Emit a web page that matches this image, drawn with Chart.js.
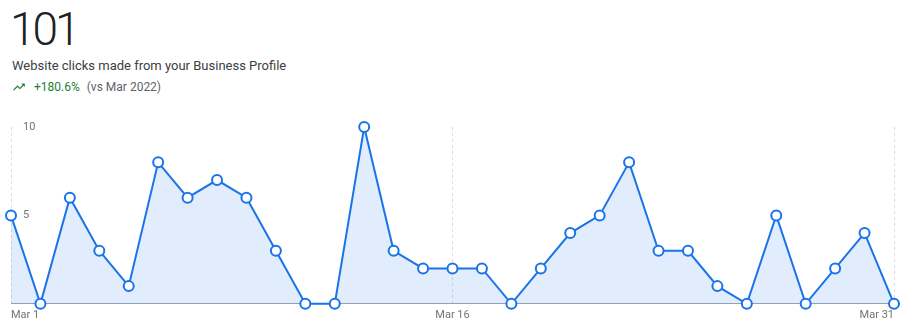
<!DOCTYPE html>
<html>
<head>
<meta charset="utf-8">
<script src="https://cdn.jsdelivr.net/npm/chart.js@4"></script>
<style>
  body { margin: 0; background: #fff; font-family: Roboto, Arial, sans-serif; }
  #wrap { position: relative; width: 908px; height: 327px; overflow: hidden; }
  #total { position: absolute; left: 10px; top: 2px; font-size: 46px; font-weight: 300; color: #202124; letter-spacing: -3px; }
  #sub { position: absolute; left: 12px; top: 58px; font-size: 13px; color: #3c4043; }
  #delta { position: absolute; left: 12px; top: 80px; font-size: 12px; color: #5f6368; }
  #delta svg { vertical-align: -3px; margin-right: 8px; }
  #delta .up { color: #188038; margin-right: 7px; }
  #c { position: absolute; left: 0; top: 0; }
</style>
</head>
<body>
<div id="wrap">
  <div id="total">101</div>
  <div id="sub">Website clicks made from your Business Profile</div>
  <div id="delta"><svg width="14" height="14" viewBox="0 0 24 24"><path fill="#188038" d="M16 6l2.29 2.29-4.88 4.88-4-4L2 16.59 3.41 18l6-6 4 4 6.3-6.29L22 12V6z"/></svg><span class="up">+180.6%</span>(vs Mar 2022)</div>
  <canvas id="c" width="908" height="327"></canvas>
</div>
<script>
var days = [];
for (var d = 1; d <= 31; d++) days.push("Mar " + d);
var clicks = [5,0,6,3,1,8,6,7,6,3,0,0,10,3,2,2,2,0,2,4,5,8,3,3,1,0,5,0,2,4,0];
var shownDays = [0, 15, 30];
var yTicks = [5, 10];

new Chart(document.getElementById("c"), {
  type: "line",
  data: {
    labels: days,
    datasets: [{
      data: clicks,
      borderColor: "#1a73e8",
      borderWidth: 2,
      backgroundColor: "rgba(26,115,232,0.13)",
      fill: "origin",
      tension: 0,
      pointRadius: 5,
      pointBorderWidth: 2,
      pointBackgroundColor: "#fff",
      pointBorderColor: "#1a73e8",
      clip: false
    }]
  },
  options: {
    responsive: false,
    animation: false,
    layout: { padding: { left: 11, right: 14, top: 127, bottom: 0 } },
    plugins: { legend: { display: false }, tooltip: { enabled: false } },
    scales: {
      x: {
        offset: false,
        grid: {
          drawTicks: false,
          color: function (ctx) { return shownDays.indexOf(ctx.index) >= 0 ? "#dadce0" : "rgba(0,0,0,0)"; }
        },
        border: { display: true, color: "#9aa5b8", width: 1, dash: [3, 3] },
        ticks: {
          autoSkip: false,
          maxRotation: 0,
          align: "inner",
          padding: 5,
          color: "#70757a",
          font: { family: "Roboto", size: 11 },
          callback: function (v, i) { return shownDays.indexOf(i) >= 0 ? days[i] : ""; }
        }
      },
      y: {
        min: 0,
        max: 10,
        grid: { display: false },
        border: { display: false },
        afterBuildTicks: function (s) { s.ticks = yTicks.map(function (v) { return { value: v }; }); },
        afterFit: function (s) { s.width = 0; },
        ticks: {
          mirror: true,
          padding: 12,
          color: "#70757a",
          font: { family: "Roboto", size: 11 }
        }
      }
    }
  }
});
</script>
</body>
</html>
